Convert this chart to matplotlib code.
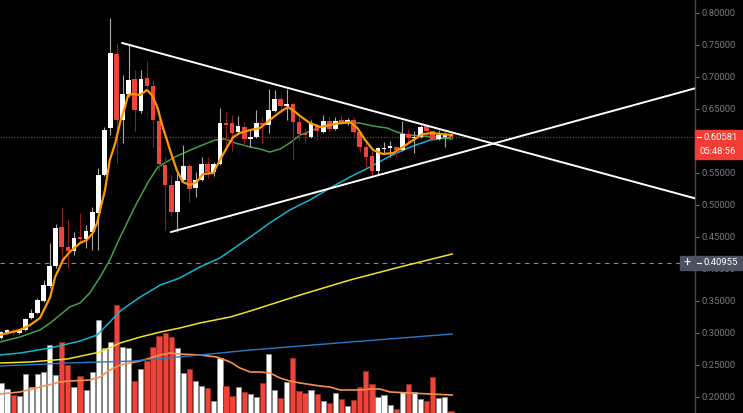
import matplotlib
matplotlib.use("Agg")
import matplotlib.pyplot as plt
from matplotlib.patches import Rectangle
from matplotlib.lines import Line2D

plt.rcParams['font.family'] = ['Roboto', 'DejaVu Sans']

# candles (one per bar, oldest first)
opens = [.2922, .3000, .3031, .3000, .3047, .3234, .3312, .3500, .3734, .4047,
         .4656, .4344, .4281, .4500, .4469, .4578, .4875, .5469, .6203, .7359,
         .6328, .6734, .6969, .6469, .6984, .6859, .6312, .5625, .5312, .4890,
         .5390, .5609, .5265, .5390, .5640, .5515, .5640, .6281, .6281, .6140,
         .6219, .6031, .6062, .6281, .6250, .6469, .6656, .6547, .6578, .6297,
         .6125, .6062, .6250, .6140, .6312, .6187, .6328, .6297, .6328, .6140,
         .5906, .5765, .5531, .5875, .5890, .5906, .5859, .6109, .6047, .6062,
         .6250, .6156, .6031, .6062, .6094]
highs = [.3031, .3062, .3062, .3062, .3234, .3375, .3547, .3828, .4406, .4703,
         .4969, .4781, .4578, .4875, .4687, .4969, .5578, .6219, .7922, .7531,
         .7031, .7500, .7109, .7109, .7250, .6953, .6484, .5750, .5469, .5500,
         .5937, .5640, .5515, .5750, .5750, .5672, .6516, .6453, .6406, .6390,
         .6297, .6172, .6484, .6375, .6812, .6797, .6719, .6812, .6609, .6390,
         .6203, .6328, .6265, .6406, .6390, .6375, .6406, .6359, .6375, .6156,
         .6000, .5844, .5906, .5984, .6000, .5922, .6312, .6187, .6156, .6250,
         .6265, .6172, .6172, .6140, .6109]
lows = [.2906, .2984, .2969, .2984, .3031, .3219, .3297, .3484, .3703, .4015,
        .4094, .4015, .4219, .4422, .4328, .4297, .4297, .5453, .6094, .5656,
        .5969, .6687, .6156, .6437, .6828, .5906, .5547, .4609, .4828, .4578,
        .5359, .5047, .5125, .5375, .5422, .5453, .5625, .5859, .5844, .6125,
        .5922, .5906, .6047, .5969, .6125, .6453, .6453, .6328, .5703, .6015,
        .5969, .6047, .6015, .6125, .6156, .6172, .6265, .6250, .6062, .5828,
        .5594, .5437, .5484, .5797, .5750, .5750, .5844, .5969, .5812, .6047,
        .6094, .6015, .6015, .5906, .6047]
closes = [.3015, .3047, .3000, .3047, .3219, .3312, .3516, .3750, .4047, .4640,
          .4344, .4281, .4484, .4469, .4594, .4890, .5469, .6172, .7375, .6328,
          .6734, .6953, .6484, .6969, .6859, .6328, .5640, .5312, .4890, .5375,
          .5609, .5250, .5390, .5640, .5515, .5640, .6281, .6250, .6125, .6234,
          .6031, .6062, .6281, .6250, .6484, .6656, .6547, .6578, .6297, .6109,
          .6094, .6265, .6156, .6312, .6187, .6312, .6297, .6328, .6140, .5906,
          .5750, .5531, .5890, .5890, .5922, .5859, .6109, .6047, .6062, .6219,
          .6156, .6031, .6094, .6094, .60581]
volumes = [30, 24, 18, 17, 39, 26, 39, 41, 68, 38, 71, 48, 26, 37, 23, 41, 93, 65, 71, 108,
           66, 65, 32, 44, 52, 66, 77, 80, 76, 65, 40, 44, 32, 27, 25, 12, 55, 27, 17, 26,
           21, 19, 16, 30, 59, 23, 15, 31, 55, 22, 20, 23, 19, 12, 10, 20, 14, 7, 13, 26,
           42, 29, 16, 18, 8, 4, 21, 29, 21, 14, 12, 36, 15, 16, 2]

# moving averages (bar position, value)
ma_fast_x = [-0.2, 3.1, 4.8, 6.4, 8.1, 8.9, 10.2, 11.3, 13.0, 14.1, 15.1, 15.8, 16.3, 17.1,
             17.9, 18.8, 19.6, 20.4, 20.9, 21.7, 22.9, 24.0, 24.8, 25.7, 26.6, 27.8, 28.9,
             29.9, 31.1, 32.2, 33.2, 34.9, 36.0, 37.2, 38.2, 39.3, 41.0, 42.6, 44.2, 45.9,
             47.2, 48.4, 49.2, 50.8, 52.5, 54.1, 55.8, 57.4, 58.6, 59.9, 61.2, 62.8, 64.5,
             66.1, 67.8, 69.4, 70.9, 72.2, 74.2]
ma_fast = [.2969, .3047, .3125, .3234, .3562, .3875, .4141, .4266, .4406, .4453, .4562,
           .4719, .4922, .5234, .5703, .5969, .6297, .6531, .6719, .6734, .6719, .6797,
           .6719, .6531, .6219, .5859, .5547, .5359, .5312, .5359, .5484, .5500, .5703,
           .5906, .6062, .6125, .6172, .6203, .6328, .6453, .6531, .6453, .6390, .6281,
           .6219, .6250, .6281, .6297, .6203, .6015, .5859, .5797, .5812, .5906, .6015,
           .6109, .6125, .6109, .6094]
ma_mid_x = [-0.2, 3.1, 6.4, 8.1, 9.7, 11.3, 13.0, 14.6, 16.3, 17.9, 19.6, 21.2, 22.0, 24.2,
            25.8, 28.6, 31.9, 35.2, 36.8, 38.5, 41.0, 42.6, 44.2, 45.9, 47.5, 49.2, 50.5,
            52.5, 54.6, 57.4, 59.0, 61.2, 63.5, 65.1, 66.8, 69.4, 71.7, 74.2]
ma_mid = [.2859, .2937, .3047, .3156, .3281, .3406, .3469, .3625, .3875, .4141, .4500,
          .4812, .4969, .5359, .5594, .5750, .5890, .6015, .6031, .5969, .5906, .5875,
          .5828, .5875, .5969, .6094, .6140, .6219, .6265, .6281, .6281, .6234, .6203,
          .6140, .6094, .6078, .6062, .6031]
ma_50_x = [-0.2, 3.1, 8.1, 13.0, 15.8, 17.9, 19.6, 22.9, 26.2, 29.4, 32.7, 36.0, 41.0,
           44.2, 47.5, 50.8, 54.1, 57.4, 60.7, 64.0, 67.3, 70.6, 74.2]
ma_50 = [.2656, .2687, .2765, .2875, .2969, .3172, .3344, .3562, .3750, .3859, .4031,
         .4172, .4500, .4719, .4922, .5078, .5265, .5437, .5594, .5765, .5906, .6015, .6062]
ma_100_x = [-0.2, 4.8, 10.9, 16.3, 19.6, 22.9, 26.2, 29.4, 32.7, 37.7, 41.0, 49.2, 57.4,
            65.6, 74.2]
ma_100 = [.2531, .2547, .2594, .2703, .2844, .2937, .3015, .3078, .3156, .3250, .3344,
          .3594, .3828, .4031, .4234]
ma_200_x = [-0.2, 10.9, 21.7, 32.7, 41.0, 57.4, 74.2]
ma_200 = [.2484, .2531, .2562, .2656, .2734, .2859, .2984]
vol_ma_x = [-0.2, 3.1, 6.4, 9.7, 11.3, 14.6, 16.3, 17.9, 19.6, 22.9, 26.2, 27.8, 29.4,
            32.7, 35.5, 37.7, 39.3, 41.0, 42.6, 44.2, 45.9, 47.5, 49.2, 52.5, 54.1, 55.8,
            59.0, 60.7, 62.3, 64.0, 67.3, 70.6, 74.2]
vol_ma = [19, 21, 26, 31, 32, 33, 36, 43, 48, 52, 58, 60, 59, 58, 56, 51, 45, 41, 41, 40,
          35, 32, 30, 27, 26, 23, 23, 24, 24, 21, 20, 19, 18]

# triangle lines (bar position, price)
upper_x = [19.95, 114.14]
upper_y = [0.7531, 0.5104]
lower_x = [27.96, 114.14]
lower_y = [0.4578, 0.6823]

last_price = 0.60581
alert_price = 0.40955
time_left = '05:48:56'
y_ticks = [0.20, 0.25, 0.30, 0.35, 0.40, 0.45, 0.50, 0.55, 0.60, 0.65, 0.70, 0.75, 0.80]

UP = '#ffffff'
DOWN = '#f0433a'

fig = plt.figure(figsize=(7.43, 4.13), dpi=100, facecolor='black')
rect = [0, 0, 695 / 743, 1]
axv = fig.add_axes(rect)
ax = fig.add_axes(rect, sharex=axv)
ax.set_zorder(2)
ax.patch.set_visible(False)
axv.set_facecolor('black')

n = len(closes)
xs = list(range(n))
up = [c >= o for o, c in zip(opens, closes)]

# volume
axv.bar(xs, volumes, width=0.86,
        color=[UP if u else DOWN for u in up],
        edgecolor=['#8a8a8a' if u else '#9a2a22' for u in up], linewidth=0.6, zorder=1)
axv.plot(vol_ma_x, vol_ma, color='#f7904a', lw=1.2, zorder=2)
axv.set_ylim(0, 413)
axv.axis('off')

# moving averages
ax.plot(ma_200_x, ma_200, color='#2979c9', lw=1.0, zorder=2)
ax.plot(ma_100_x, ma_100, color='#f5e02a', lw=1.1, zorder=2)
ax.plot(ma_50_x, ma_50, color='#16b3cf', lw=1.1, zorder=2)
ax.plot(ma_mid_x, ma_mid, color='#43a047', lw=1.1, zorder=2)

# candles
for i in xs:
    o, h, l, c = opens[i], highs[i], lows[i], closes[i]
    ax.vlines(i, l, h, color='#a8a8a8' if up[i] else '#8e1d1a', lw=0.8, zorder=3)
    ax.bar(i, max(abs(c - o), 0.0016), bottom=min(o, c), width=0.76,
           color=UP if up[i] else DOWN, linewidth=0, zorder=4)

ax.plot(ma_fast_x, ma_fast, color='#ff9800', lw=1.6, zorder=5)

ax.plot(upper_x, upper_y, color='white', lw=1.4, zorder=6)
ax.plot(lower_x, lower_y, color='white', lw=1.4, zorder=6)

ax.axhline(last_price, color='#d32f2f', ls=(0, (1, 1.5)), lw=0.8, zorder=1)
ax.axhline(alert_price, color='#7d8ba0', ls=(0, (4, 4)), lw=0.8, zorder=1)

ax.set_xlim(-0.164, 114.14)
ax.set_ylim(0.1750, 0.8203)

for s in ['top', 'left', 'bottom']:
    ax.spines[s].set_visible(False)
ax.spines['right'].set_color('#4a4a4a')
ax.spines['right'].set_linewidth(1.0)
ax.set_xticks([])
ax.yaxis.tick_right()
ax.set_yticks(y_ticks)
# the 0.60000 label sits fully behind the last-price tag
ax.set_yticklabels(['' if abs(t - 0.60) < 1e-9 else '%.5f' % t for t in y_ticks])
ax.tick_params(axis='y', colors='#6e6e6e', labelcolor='#7a7a7a', length=3, width=0.8,
               pad=2, labelsize=6.8)

# price labels on the scale
tr = ax.get_yaxis_transform()
bw = 47 / 695
bh = 14 / 640
ax.add_patch(Rectangle((1.0, last_price - bh / 2), bw, bh, transform=tr,
                       color='#f23c36', clip_on=False, zorder=10))
ax.add_patch(Rectangle((1.0, last_price - bh * 1.55), bw, bh, transform=tr,
                       color='#f23c36', clip_on=False, zorder=10))
ax.add_line(Line2D([1.003, 1.008], [last_price, last_price], transform=tr,
                   color='white', lw=0.8, clip_on=False, zorder=11))
ax.text(1.0 + 8 / 695, last_price, '%.5f' % last_price, transform=tr, color='white',
        fontsize=6.8, va='center', ha='left', zorder=11, clip_on=False)
ax.text(1.0 + 4 / 695, last_price - bh * 1.05, time_left, transform=tr, color='white',
        fontsize=6.8, va='center', ha='left', zorder=11, clip_on=False)

ax.add_patch(Rectangle((680 / 695, alert_price - bh / 2), 62 / 695, bh, transform=tr,
                       color='#4b5361', clip_on=False, zorder=10))
ax.add_line(Line2D([1.003, 1.008], [alert_price, alert_price], transform=tr,
                   color='white', lw=0.8, clip_on=False, zorder=11))
ax.text(687 / 695, alert_price, '+', transform=tr, color='white', fontsize=9,
        va='center', ha='center', zorder=11, clip_on=False)
ax.text(1.0 + 8 / 695, alert_price, '%.5f' % alert_price, transform=tr, color='white',
        fontsize=6.8, va='center', ha='left', zorder=11, clip_on=False)

fig.savefig('out.png', dpi=100, facecolor='black')
